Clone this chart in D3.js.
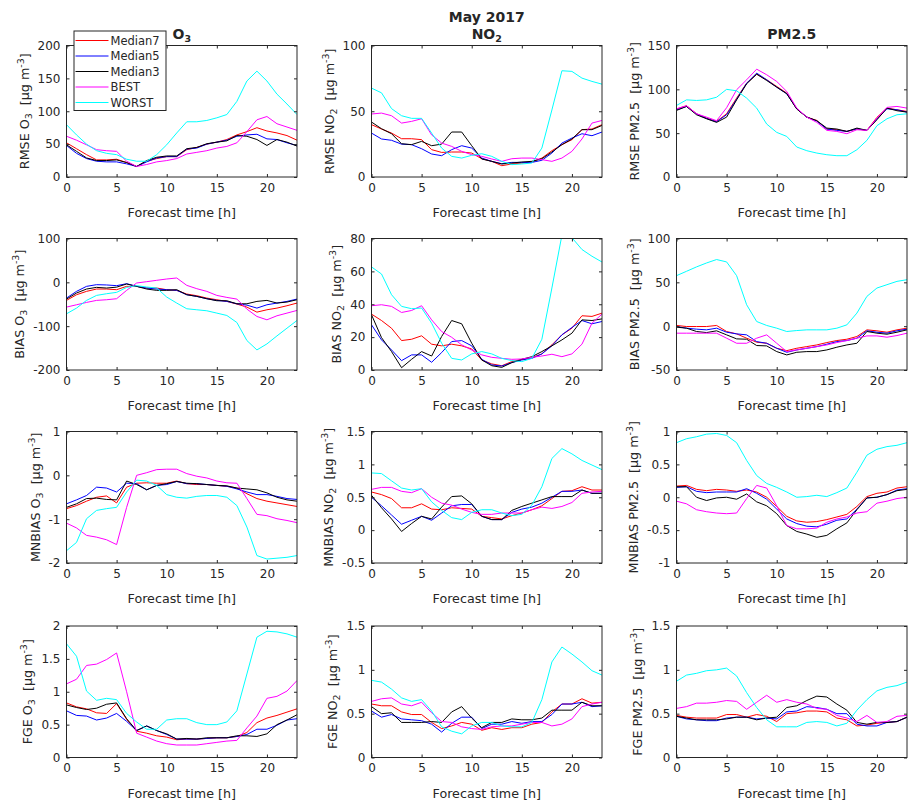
<!DOCTYPE html>
<html>
<head>
<meta charset="utf-8">
<script src="https://cdn.jsdelivr.net/npm/d3@7"></script>
<style>
  body { margin: 0; background: #fff; }
  text { font-family: "DejaVu Sans", sans-serif; fill: #262626; white-space: pre; }
</style>
</head>
<body>
<div id="chart"></div>
<script>
// forecast hours (x axis)
const hours = [0,1,2,3,4,5,6,7,8,9,10,11,12,13,14,15,16,17,18,19,20,21,22,23];
const hourTicks = [0, 5, 10, 15, 20];

const seriesNames = ['Median7', 'Median5', 'Median3', 'BEST', 'WORST'];
const seriesColors = ['#ff0000', '#0000ff', '#000000', '#ff00ff', '#00ffff'];

// --- RMSE ---
const rmseO3 = {
  Median7: [52,43,34,26,26,27,22,16,24,28,31,31,41.5,45,50,53,57,64,69,75,70,67,63,56],
  Median5: [48,36,28,24,23,23,20,16,23,29,31,31,42.5,44,50,53,56,62,64,65,58,57,52,48],
  Median3: [49,39,29,25,25,26,22,16,25,30,32,32,43,45,50.6,53,55,63,62,57,48,57,53,47],
  BEST:    [62,56,49,41.5,40,39,24,16,19,23,25,28,35,37.5,40,44,46.5,52,69,87,92,81,76,71],
  WORST:   [79.5,64,50,40,36,34,27,24,24,34,49,67,84,84,86,90,95,115,146,161,146,126,111,95]
};
const rmseNO2 = {
  Median7: [39.8,36.5,33.4,29.1,29.1,28.4,20.8,18.7,19,19,18.2,13.9,11.9,8.6,9.9,10.6,11.4,14.4,20,24.6,28.4,36,36.5,39.8],
  Median5: [33.4,28.9,27.9,25,24.6,21.5,17.5,16.2,20.8,23.8,22,14.4,11.9,10.1,11.1,11.1,11.1,12.7,18.2,25.8,29.6,32.9,31.4,34.2],
  Median3: [41.8,36.7,32.9,25.3,24.6,27.1,23.8,25,34.2,34.2,23.8,13.7,11.9,9.9,10.6,11.4,11.9,13.9,19,24.6,28.9,36,36,39.2],
  BEST:    [47.9,48.6,46.6,41,42.3,44.3,32,25.8,23.3,19.5,17,15.7,13.7,11.9,13.9,14.4,14.4,13.2,11.9,14.4,19.5,28.9,41,43],
  WORST:   [67.6,64,52,46.6,44.6,44.6,33.4,22,15.7,14.4,16.5,17.7,15.7,11.9,9.4,9.9,10.6,22,51,80.8,80.3,75.2,72.7,70.6]
};
const rmsePM = {
  Median7: [77.5,81.3,72.1,67.2,63.4,72.1,90,107,117.3,110.9,103.3,95.7,77.8,68.3,64.5,54.7,53.9,52,54.7,53.2,68,78.6,76.7,74.8],
  Median5: [76.7,80.5,71.8,66.8,63,71,88.8,107,118.5,110.9,102.5,95,77.8,68.3,63.8,54.7,53.2,52,55,53.2,66.4,77.8,76.7,74],
  Median3: [75.9,80.5,71,66.4,62.3,68.3,88,106.3,117.3,110.1,102.5,95,77.5,68.3,64.2,55.8,54.7,52,55.8,53.2,65.3,78.6,75.6,74],
  BEST:    [77.8,81.3,72.1,68.3,64.2,79,99.5,110.9,123,116.6,109,97.6,78.6,68.3,62.3,53.2,52,49.4,53.9,53.2,67.2,79.4,80.5,78.6],
  WORST:   [81.6,88,87.3,88,91,100,98.3,90,78.6,60.4,50.9,46.3,34.2,30,27.3,25.4,24.3,24.3,31.1,41.8,58.5,66.4,71,72.1]
};

// --- BIAS ---
const biasO3 = {
  Median7: [-41.2,-28.3,-20.6,-15.3,-15.3,-16.8,-9.2,-9.2,-13,-13,-16.8,-18.3,-26.7,-30.5,-35.9,-39.7,-43.5,-49.6,-56.5,-68,-62.6,-58.8,-53.4,-47.3],
  Median5: [-35.9,-20.6,-9.2,-5.3,-6,-7.6,-3.1,-9.2,-13,-15.3,-16.8,-18.3,-28.3,-32.1,-37.4,-41.2,-43.5,-48.9,-52,-58.8,-51.2,-47.3,-43.5,-38.2],
  Median3: [-38.2,-24.4,-15.3,-11.5,-13,-11,-3.8,-9.2,-15.3,-18.3,-18.3,-16.8,-28.3,-32.1,-37.4,-42,-42,-48.9,-48.9,-43.5,-41.2,-47.3,-45,-39.7],
  BEST:    [-56.5,-51.2,-45.8,-41.2,-39.7,-37.4,-18.3,-1.5,1.5,4.6,7.6,9.9,-6.9,-14.5,-20.6,-29.8,-34.4,-38.2,-61.1,-77.9,-85.5,-76.3,-70.2,-64.1],
  WORST:   [-71.8,-58.8,-41.2,-29.8,-26,-22.9,-11.5,-7.6,-10.7,-13,-33.6,-47.3,-60.3,-62.6,-64.9,-70.2,-75.6,-91.6,-132.8,-154.2,-140.5,-122.2,-104.6,-87]
};
const biasNO2 = {
  Median7: [34,30.1,25.4,17.9,18.7,20.8,15.7,14.7,15.7,14.7,12.8,6.1,3.7,2.6,5.1,6.5,7.5,9.8,15.3,21.4,25.4,33,32.6,34.6],
  Median5: [27.5,18.3,12.2,5.7,9.2,9.2,4.7,10.6,17.3,17.9,14.7,6.5,3.1,2.4,4.5,6.1,7.1,9.8,14.7,21.4,25.9,30.1,28.1,29.5],
  Median3: [33.6,19.7,11.2,1.4,6.5,11.2,8.5,20.4,30.1,28.1,16.3,6.1,2.6,1.6,4.5,6.5,8.1,11.2,14.7,18.3,22.4,30.5,30.1,31.1],
  BEST:    [39.1,39.7,38.7,35,36.2,39.1,30.5,23.4,19.9,15.3,12.2,9.2,7.7,7.1,6.5,6.7,7.7,8.5,9.6,8.1,9.8,15.7,28.5,34],
  WORST:   [62.7,58.4,45.8,38.7,37.3,37.7,28.5,16.3,7.1,6.1,9.8,11.2,9.8,7.1,5.7,5.1,7.1,18.7,49.9,82,80.5,73.3,69.2,65.7]
};
const biasPM = {
  Median7: [0.8,-0.4,-0.4,-0.4,0.8,-6.1,-8.8,-13.7,-18.3,-19.5,-25.2,-27.9,-25.2,-23.3,-21.4,-18.7,-16.4,-14.9,-11.8,-4.2,-5.3,-6.9,-4.2,-2.3],
  Median5: [-0.4,-2.3,-3.4,-4.2,-2.3,-6.9,-8.8,-9.9,-17.6,-19.5,-25.2,-29.8,-27.1,-25.2,-23.3,-20.6,-17.6,-16.4,-13.7,-5.3,-6.9,-8,-5.3,-3.4],
  Median3: [-1.1,-2.3,-6.1,-7.3,-5.3,-9.9,-14.5,-14.9,-22.1,-22.5,-29,-32.8,-29.8,-29,-29,-27.1,-24,-21.4,-19.5,-6.1,-8,-9.2,-6.9,-4.2],
  BEST:    [-8,-8,-8,-8,-8,-13.7,-19.5,-19.5,-13.7,-9.9,-19.5,-29,-27.1,-25.2,-23.3,-21.4,-18.7,-16.4,-13.7,-11.1,-11.1,-12.6,-10.7,-8],
  WORST:   [57.6,62.6,67.6,72.1,76,73.3,57.6,24.4,5.3,0.8,-2.3,-6.1,-5,-4.2,-4.2,-4.2,-2.3,1.5,14.9,34,43.5,47.3,51.1,53]
};

// --- MNBIAS ---
const mnbO3 = {
  Median7: [-0.76,-0.69,-0.59,-0.5,-0.47,-0.63,-0.27,-0.18,-0.17,-0.18,-0.18,-0.13,-0.19,-0.21,-0.21,-0.23,-0.25,-0.29,-0.42,-0.53,-0.59,-0.63,-0.67,-0.71],
  Median5: [-0.65,-0.56,-0.46,-0.27,-0.29,-0.38,-0.18,-0.19,-0.33,-0.23,-0.21,-0.14,-0.19,-0.19,-0.21,-0.23,-0.25,-0.31,-0.38,-0.44,-0.44,-0.48,-0.53,-0.55],
  Median3: [-0.73,-0.65,-0.53,-0.52,-0.55,-0.56,-0.13,-0.21,-0.33,-0.23,-0.19,-0.14,-0.18,-0.19,-0.21,-0.23,-0.24,-0.29,-0.31,-0.33,-0.4,-0.5,-0.56,-0.59],
  BEST:    [-1.09,-1.2,-1.37,-1.41,-1.47,-1.58,-0.73,0,0.06,0.13,0.14,0.14,0.04,-0.02,-0.06,-0.13,-0.17,-0.18,-0.53,-0.89,-0.92,-0.99,-1.03,-1.08],
  WORST:   [-1.72,-1.53,-0.99,-0.8,-0.76,-0.73,-0.38,-0.11,-0.13,-0.23,-0.44,-0.5,-0.52,-0.48,-0.46,-0.46,-0.5,-0.69,-1.18,-1.83,-1.91,-1.89,-1.87,-1.83]
};
const mnbNO2 = {
  Median7: [0.58,0.54,0.48,0.34,0.34,0.4,0.32,0.31,0.34,0.33,0.32,0.21,0.19,0.17,0.22,0.26,0.31,0.37,0.48,0.59,0.6,0.66,0.61,0.61],
  Median5: [0.5,0.37,0.23,0.09,0.15,0.21,0.15,0.26,0.37,0.39,0.39,0.21,0.16,0.16,0.27,0.32,0.35,0.41,0.5,0.59,0.59,0.61,0.56,0.56],
  Median3: [0.53,0.34,0.17,-0.02,0.1,0.21,0.17,0.35,0.51,0.52,0.4,0.21,0.16,0.16,0.3,0.36,0.41,0.46,0.51,0.51,0.51,0.61,0.56,0.56],
  BEST:    [0.62,0.65,0.65,0.59,0.57,0.63,0.5,0.41,0.38,0.32,0.27,0.24,0.24,0.26,0.26,0.26,0.31,0.35,0.33,0.36,0.42,0.56,0.58,0.59],
  WORST:   [0.87,0.86,0.75,0.64,0.61,0.63,0.43,0.3,0.19,0.16,0.27,0.31,0.31,0.26,0.22,0.24,0.38,0.66,1.09,1.24,1.16,1.06,0.99,0.92]
};
const mnbPM = {
  Median7: [0.17,0.18,0.12,0.1,0.12,0.11,0.09,0.11,0.08,0,-0.14,-0.29,-0.36,-0.38,-0.37,-0.34,-0.3,-0.26,-0.14,0.01,0.06,0.08,0.14,0.16],
  Median5: [0.15,0.16,0.09,0.07,0.08,0.08,0.08,0.13,0.06,-0.03,-0.18,-0.33,-0.4,-0.44,-0.45,-0.41,-0.35,-0.33,-0.18,-0.01,0,0.04,0.11,0.13],
  Median3: [0.16,0.16,0,-0.05,-0.01,0,-0.03,0.05,-0.07,-0.13,-0.25,-0.43,-0.52,-0.56,-0.61,-0.58,-0.48,-0.39,-0.19,-0.01,0,0.04,0.1,0.12],
  BEST:    [-0.06,-0.1,-0.19,-0.22,-0.24,-0.25,-0.24,-0.02,0.18,0.14,-0.13,-0.43,-0.48,-0.48,-0.47,-0.38,-0.33,-0.3,-0.24,-0.22,-0.09,-0.06,-0.02,0],
  WORST:   [0.83,0.89,0.92,0.96,0.97,0.94,0.83,0.56,0.33,0.21,0.15,0.08,0,0.01,0.03,0.01,0.07,0.14,0.38,0.64,0.73,0.77,0.79,0.83]
};

// --- FGE ---
const fgeO3 = {
  Median7: [0.83,0.77,0.74,0.68,0.67,0.82,0.58,0.4,0.37,0.33,0.31,0.27,0.28,0.28,0.29,0.3,0.3,0.32,0.38,0.53,0.6,0.64,0.69,0.74],
  Median5: [0.71,0.64,0.63,0.57,0.6,0.67,0.55,0.41,0.48,0.41,0.35,0.28,0.28,0.28,0.29,0.3,0.3,0.32,0.35,0.43,0.43,0.49,0.57,0.59],
  Median3: [0.8,0.76,0.73,0.75,0.81,0.83,0.59,0.41,0.48,0.41,0.36,0.28,0.29,0.28,0.3,0.3,0.3,0.33,0.33,0.32,0.36,0.5,0.57,0.65],
  BEST:    [1.12,1.19,1.4,1.42,1.49,1.59,1.0,0.37,0.31,0.25,0.21,0.19,0.19,0.19,0.21,0.23,0.25,0.26,0.45,0.63,0.9,0.93,1.01,1.17],
  WORST:   [1.73,1.54,1.01,0.87,0.9,0.88,0.67,0.54,0.43,0.43,0.57,0.59,0.59,0.53,0.5,0.5,0.54,0.71,1.27,1.83,1.92,1.91,1.88,1.83]
};
const fgeNO2 = {
  Median7: [0.61,0.59,0.59,0.52,0.49,0.49,0.4,0.33,0.36,0.4,0.38,0.31,0.34,0.32,0.34,0.34,0.38,0.4,0.52,0.61,0.61,0.67,0.62,0.63],
  Median5: [0.53,0.46,0.49,0.44,0.43,0.42,0.38,0.29,0.39,0.46,0.46,0.33,0.38,0.38,0.41,0.39,0.41,0.41,0.49,0.61,0.61,0.63,0.58,0.59],
  Median3: [0.58,0.5,0.51,0.4,0.4,0.4,0.41,0.4,0.52,0.58,0.45,0.34,0.4,0.4,0.44,0.43,0.43,0.45,0.54,0.54,0.54,0.63,0.59,0.59],
  BEST:    [0.64,0.67,0.68,0.61,0.59,0.63,0.51,0.41,0.4,0.35,0.33,0.32,0.35,0.36,0.36,0.38,0.4,0.4,0.36,0.38,0.44,0.58,0.61,0.63],
  WORST:   [0.88,0.86,0.78,0.68,0.64,0.66,0.53,0.35,0.3,0.27,0.36,0.4,0.4,0.36,0.35,0.35,0.4,0.66,1.09,1.26,1.18,1.09,0.99,0.94]
};
const fgePM = {
  Median7: [0.48,0.46,0.45,0.45,0.45,0.49,0.49,0.46,0.49,0.47,0.41,0.5,0.51,0.53,0.53,0.52,0.45,0.43,0.36,0.37,0.39,0.4,0.41,0.46],
  Median5: [0.47,0.44,0.43,0.42,0.42,0.45,0.46,0.46,0.44,0.45,0.44,0.52,0.53,0.58,0.57,0.55,0.5,0.5,0.38,0.36,0.36,0.4,0.41,0.46],
  Median3: [0.47,0.45,0.43,0.43,0.43,0.44,0.46,0.46,0.43,0.45,0.46,0.57,0.59,0.65,0.7,0.69,0.61,0.54,0.4,0.38,0.4,0.4,0.41,0.46],
  BEST:    [0.56,0.58,0.62,0.62,0.63,0.65,0.64,0.55,0.63,0.71,0.63,0.66,0.63,0.61,0.56,0.55,0.48,0.45,0.41,0.48,0.4,0.41,0.47,0.48],
  WORST:   [0.87,0.94,0.96,0.99,1.0,1.02,0.93,0.74,0.57,0.43,0.35,0.35,0.35,0.4,0.41,0.4,0.36,0.39,0.54,0.66,0.76,0.8,0.82,0.86]
};

// y tick labels for each panel
const rmseO3Ticks = [0, 50, 100, 150, 200];
const rmseNO2Ticks = [0, 50, 100];
const rmsePMTicks = [0, 50, 100, 150];
const biasO3Ticks = [-200, -100, 0, 100];
const biasNO2Ticks = [0, 20, 40, 60, 80];
const biasPMTicks = [-50, 0, 50, 100];
const mnbO3Ticks = [-2, -1, 0, 1];
const mnbNO2Ticks = [-0.5, 0, 0.5, 1, 1.5];
const mnbPMTicks = [-1, -0.5, 0, 0.5, 1];
const fgeO3Ticks = [0, 0.5, 1, 1.5, 2];
const fgeNO2Ticks = [0, 0.5, 1, 1.5];
const fgePMTicks = [0, 0.5, 1, 1.5];

// species labels: [plain, subscript]
const species = [['O', '3'], ['NO', '2'], ['PM2.5', '']];

const panels = [
  { row: 0, col: 0, metric: 'RMSE', data: rmseO3, ticks: rmseO3Ticks },
  { row: 0, col: 1, metric: 'RMSE', data: rmseNO2, ticks: rmseNO2Ticks },
  { row: 0, col: 2, metric: 'RMSE', data: rmsePM, ticks: rmsePMTicks },
  { row: 1, col: 0, metric: 'BIAS', data: biasO3, ticks: biasO3Ticks },
  { row: 1, col: 1, metric: 'BIAS', data: biasNO2, ticks: biasNO2Ticks },
  { row: 1, col: 2, metric: 'BIAS', data: biasPM, ticks: biasPMTicks },
  { row: 2, col: 0, metric: 'MNBIAS', data: mnbO3, ticks: mnbO3Ticks },
  { row: 2, col: 1, metric: 'MNBIAS', data: mnbNO2, ticks: mnbNO2Ticks },
  { row: 2, col: 2, metric: 'MNBIAS', data: mnbPM, ticks: mnbPMTicks },
  { row: 3, col: 0, metric: 'FGE', data: fgeO3, ticks: fgeO3Ticks },
  { row: 3, col: 1, metric: 'FGE', data: fgeNO2, ticks: fgeNO2Ticks },
  { row: 3, col: 2, metric: 'FGE', data: fgePM, ticks: fgePMTicks }
];

const width = 921, height = 809;
const colLeft = [66.5, 371.5, 676.5];
const rowTop = [45.5, 238.5, 431.5, 626];
const pw = 230.5, ph = 131.5;
const axisColor = '#262626';

const svg = d3.select('#chart').append('svg')
  .attr('width', width)
  .attr('height', height);

// text with sub/superscript pieces
function richText(sel, parts) {
  let shift = 0;
  parts.forEach(p => {
    const ts = sel.append('tspan').text(p.t);
    let target = 0;
    if (p.sub) target = 3;
    if (p.sup) target = -5;
    if (p.sub || p.sup) ts.attr('font-size', '9.5px');
    if (target !== shift) { ts.attr('dy', target - shift); shift = target; }
  });
}

const fmt = d => String(d);

panels.forEach((p, i) => {
  const left = colLeft[p.col], top = rowTop[p.row];
  const g = svg.append('g').attr('transform', `translate(${left},${top})`);

  const x = d3.scaleLinear().domain([0, 23]).range([0, pw]);
  const y = d3.scaleLinear().domain(d3.extent(p.ticks)).range([ph, 0]);

  g.append('clipPath').attr('id', 'clip' + i)
    .append('rect').attr('width', pw).attr('height', ph);

  const line = d3.line()
    .x((d, k) => x(hours[k]))
    .y(d => y(d));

  seriesNames.forEach((name, s) => {
    g.append('path')
      .datum(p.data[name])
      .attr('clip-path', `url(#clip${i})`)
      .attr('fill', 'none')
      .attr('stroke', seriesColors[s])
      .attr('stroke-width', 1)
      .attr('d', line);
  });

  // axes, MATLAB style: ticks inside on all four sides
  const ax = [
    g.append('g').attr('transform', `translate(0,${ph})`)
      .call(d3.axisBottom(x).tickValues(hourTicks).tickFormat(fmt).tickSize(-3).tickSizeOuter(0).tickPadding(6)),
    g.append('g')
      .call(d3.axisTop(x).tickValues(hourTicks).tickFormat('').tickSize(-3).tickSizeOuter(0)),
    g.append('g')
      .call(d3.axisLeft(y).tickValues(p.ticks).tickFormat(fmt).tickSize(-3).tickSizeOuter(0).tickPadding(6)),
    g.append('g').attr('transform', `translate(${pw},0)`)
      .call(d3.axisRight(y).tickValues(p.ticks).tickFormat('').tickSize(-3).tickSizeOuter(0))
  ];
  ax.forEach(a => {
    a.select('.domain').remove();
    a.selectAll('line').attr('stroke', axisColor);
    a.selectAll('text').attr('font-size', '12px').attr('fill', axisColor)
      .attr('font-family', '"DejaVu Sans", sans-serif');
  });

  g.append('rect')
    .attr('width', pw).attr('height', ph)
    .attr('fill', 'none').attr('stroke', axisColor).attr('stroke-width', 1);

  // x label
  g.append('text')
    .attr('x', pw / 2).attr('y', ph + 40)
    .attr('text-anchor', 'middle')
    .attr('font-size', '12.7px')
    .text('Forecast time [h]');

  // y label, placed left of the widest tick label
  let maxW = 0;
  ax[2].selectAll('text').each(function () { maxW = Math.max(maxW, this.getComputedTextLength()); });
  const sp = species[p.col];
  const parts = [{ t: p.metric + ' ' + sp[0] }];
  if (sp[1]) parts.push({ t: sp[1], sub: true });
  parts.push({ t: '  [µg m' }, { t: '-3', sup: true }, { t: ']' });
  const yl = g.append('text')
    .attr('text-anchor', 'middle')
    .attr('font-size', '12.7px')
    .attr('transform', `translate(${-6 - maxW - 9},${ph / 2}) rotate(-90)`);
  richText(yl, parts);
});

// column titles
const titleY = rowTop[0] - 7;
species.forEach((sp, c) => {
  const t = svg.append('text')
    .attr('x', colLeft[c] + pw / 2).attr('y', titleY)
    .attr('text-anchor', 'middle')
    .attr('font-size', '14px').attr('font-weight', 'bold');
  const parts = [{ t: sp[0] }];
  if (sp[1]) parts.push({ t: sp[1], sub: true });
  richText(t, parts);
});
svg.append('text')
  .attr('x', colLeft[1] + pw / 2).attr('y', titleY - 17)
  .attr('text-anchor', 'middle')
  .attr('font-size', '14px').attr('font-weight', 'bold')
  .text('May 2017');

// legend in the first panel
const lg = svg.append('g').attr('transform', 'translate(74,31)');
lg.append('rect')
  .attr('width', 92).attr('height', 79.5)
  .attr('fill', '#fff').attr('stroke', axisColor).attr('stroke-width', 1);
seriesNames.forEach((name, s) => {
  const yy = 9.5 + s * 15.5;
  lg.append('line')
    .attr('x1', 1.5).attr('x2', 34.5).attr('y1', yy).attr('y2', yy)
    .attr('stroke', seriesColors[s]).attr('stroke-width', 1);
  lg.append('text')
    .attr('x', 36.5).attr('y', yy + 4.2)
    .attr('font-size', '11.5px')
    .text(name);
});
</script>
</body>
</html>
